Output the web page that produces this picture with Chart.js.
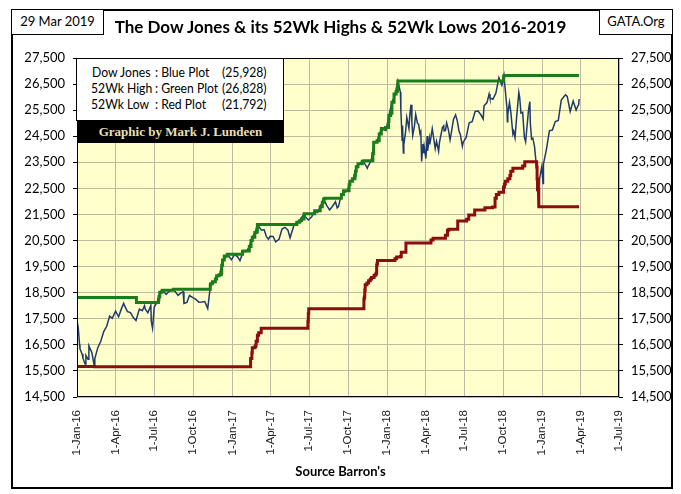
<!DOCTYPE html>
<html>
<head>
<meta charset="utf-8">
<script src="https://cdn.jsdelivr.net/npm/chart.js@4.4.1/dist/chart.umd.min.js"></script>
<style>
html,body{margin:0;padding:0;background:#fff;}
#wrap{position:relative;width:681px;height:494px;overflow:hidden;font-family:Lato,"Open Sans",sans-serif;}
#c{position:absolute;left:0;top:0;}
.box{position:absolute;box-sizing:border-box;}
#frame{left:11px;top:9px;width:662px;height:480px;border:2.5px solid #000;}
#date{left:11px;top:9px;width:93px;height:26px;border:1.5px solid #000;background:#fff;font-size:13px;text-align:center;line-height:23px;}
#gata{left:599px;top:9px;width:74px;height:26px;border:1.5px solid #000;background:#fff;font-size:13px;text-align:center;line-height:23px;}
#title{position:absolute;left:0;width:681px;top:16px;text-align:center;font-weight:bold;font-size:17px;}
#legend{left:76px;top:58px;width:208px;height:63px;border:1px solid #000;background:#fff;font-size:14px;}
#legend span{position:absolute;white-space:pre;transform:scaleX(0.87);transform-origin:0 0;}
#banner{left:77px;top:120px;width:207px;height:23px;background:#000;color:#eadfb4;font-family:"Liberation Serif",serif;font-weight:bold;font-size:13px;text-align:center;line-height:23px;}
#source{position:absolute;left:0;width:681px;top:463px;text-align:center;font-weight:bold;font-size:13px;}
</style>
</head>
<body>
<div id="wrap">
<canvas id="c" width="681" height="494"></canvas>
<div class="box" id="frame"></div>
<div class="box" id="date">29 Mar 2019</div>
<div class="box" id="gata">GATA.Org</div>
<div id="title">The Dow Jones &amp; its 52Wk Highs &amp; 52Wk Lows 2016-2019</div>
<div class="box" id="legend">
<span style="left:15px;top:4px">Dow Jones</span><span style="left:78px;top:4px">: Blue Plot</span><span style="left:145px;top:4px">(25,928)</span>
<span style="left:14px;top:20px">52Wk High</span><span style="left:78px;top:20px">: Green Plot</span><span style="left:145px;top:20px">(26,828)</span>
<span style="left:14px;top:36px">52Wk Low</span><span style="left:78px;top:36px">: Red Plot</span><span style="left:145px;top:36px">(21,792)</span>
</div>
<div class="box" id="banner">Graphic by Mark J. Lundeen</div>
<div id="source">Source Barron's</div>
</div>
<script>
const tickDates = ['2016-01-01','2016-04-01','2016-07-01','2016-10-01','2017-01-01','2017-04-01','2017-07-01',
  '2017-10-01','2018-01-01','2018-04-01','2018-07-01','2018-10-01','2019-01-01','2019-04-01','2019-07-01'];
const tickLabels = ['1-Jan-16','1-Apr-16','1-Jul-16','1-Oct-16','1-Jan-17','1-Apr-17','1-Jul-17',
  '1-Oct-17','1-Jan-18','1-Apr-18','1-Jul-18','1-Oct-18','1-Jan-19','1-Apr-19','1-Jul-19'];
const yTicks = [14500,15500,16500,17500,18500,19500,20500,21500,22500,23500,24500,25500,26500,27500];

// Dow Jones closes (blue)
const dowDates = [
 '2016-01-01','2016-01-04','2016-01-07','2016-01-08','2016-01-13','2016-01-15','2016-01-20','2016-01-22','2016-01-27','2016-01-29',
 '2016-02-05','2016-02-11','2016-02-12','2016-02-19','2016-02-26','2016-03-04','2016-03-11','2016-03-18','2016-03-24','2016-04-01',
 '2016-04-08','2016-04-15','2016-04-20','2016-04-22','2016-04-29','2016-05-06','2016-05-13','2016-05-19','2016-05-27','2016-06-03',
 '2016-06-08','2016-06-10','2016-06-16','2016-06-23','2016-06-24','2016-06-27','2016-07-01','2016-07-08','2016-07-15','2016-07-20',
 '2016-07-22','2016-07-29','2016-08-05','2016-08-15','2016-08-19','2016-08-26','2016-09-02','2016-09-07','2016-09-09','2016-09-16',
 '2016-09-22','2016-09-30','2016-10-07','2016-10-14','2016-10-21','2016-10-28','2016-11-04','2016-11-11','2016-11-18','2016-11-25',
 '2016-12-02','2016-12-09','2016-12-16','2016-12-20','2016-12-30',
 '2017-01-06','2017-01-13','2017-01-19','2017-01-27','2017-02-03','2017-02-10','2017-02-17','2017-02-24','2017-03-01','2017-03-10',
 '2017-03-17','2017-03-22','2017-03-27','2017-03-31','2017-04-07','2017-04-13','2017-04-21','2017-04-28','2017-05-05','2017-05-12',
 '2017-05-17','2017-05-26','2017-06-02','2017-06-09','2017-06-19','2017-06-23','2017-06-29','2017-07-07','2017-07-14','2017-07-21',
 '2017-07-28','2017-08-04','2017-08-11','2017-08-18','2017-08-25','2017-09-01','2017-09-05','2017-09-08','2017-09-15','2017-09-22',
 '2017-09-29','2017-10-06','2017-10-13','2017-10-20','2017-10-27','2017-11-03','2017-11-10','2017-11-15','2017-11-17','2017-11-24',
 '2017-12-01','2017-12-08','2017-12-15','2017-12-22','2017-12-29',
 '2018-01-05','2018-01-12','2018-01-19','2018-01-26','2018-02-01','2018-02-02','2018-02-05','2018-02-06','2018-02-08','2018-02-09',
 '2018-02-13','2018-02-16','2018-02-21','2018-02-23','2018-02-26','2018-02-28','2018-03-02','2018-03-06','2018-03-09','2018-03-13',
 '2018-03-16','2018-03-19','2018-03-21','2018-03-23','2018-03-26','2018-03-28','2018-03-29','2018-04-02','2018-04-05','2018-04-06',
 '2018-04-10','2018-04-11','2018-04-13','2018-04-17','2018-04-20','2018-04-24','2018-04-27','2018-05-02','2018-05-04','2018-05-11',
 '2018-05-14','2018-05-15','2018-05-18','2018-05-21','2018-05-25','2018-05-29','2018-06-01','2018-06-06','2018-06-11','2018-06-15',
 '2018-06-19','2018-06-22','2018-06-27','2018-06-29','2018-07-06','2018-07-13','2018-07-20','2018-07-27','2018-08-03','2018-08-10',
 '2018-08-15','2018-08-17','2018-08-24','2018-08-29','2018-08-31','2018-09-07','2018-09-14','2018-09-21','2018-09-28','2018-10-03',
 '2018-10-05','2018-10-10','2018-10-11','2018-10-12','2018-10-16','2018-10-19','2018-10-24','2018-10-26','2018-10-29','2018-11-02',
 '2018-11-07','2018-11-09','2018-11-12','2018-11-16','2018-11-20','2018-11-23','2018-11-30','2018-12-03','2018-12-04','2018-12-07',
 '2018-12-10','2018-12-14','2018-12-17','2018-12-19','2018-12-21','2018-12-24','2018-12-26','2018-12-28','2018-12-31',
 '2019-01-03','2019-01-04','2019-01-11','2019-01-18','2019-01-25','2019-02-01','2019-02-08','2019-02-15','2019-02-22','2019-02-25',
 '2019-03-01','2019-03-08','2019-03-15','2019-03-22','2019-03-26','2019-03-28','2019-03-29'];
const dowValues = [
 17425,17149,16514,16346,16151,15988,15766,16093,15945,16466,
 16205,15660,15974,16392,16640,17006,17213,17602,17516,17793,
 17577,17898,18096,18004,17774,17740,17535,17435,17873,17807,
 18005,17865,17733,18011,17400,17140,17949,18147,18516,18595,
 18571,18432,18543,18636,18552,18395,18492,18538,18085,18124,
 18392,18308,18240,18138,18145,18161,17888,18847,18868,19152,
 19170,19757,19843,19974,19763,
 19964,19886,19732,20094,20071,20269,20624,20822,21115,20903,
 20915,20661,20550,20663,20656,20453,20548,20941,21007,20897,
 20606,21080,21206,21272,21528,21395,21287,21415,21638,21580,
 21830,22092,21858,21674,21814,21988,21753,21798,22268,22350,
 22405,22774,22871,23329,23434,23539,23422,23271,23358,23558,
 24232,24329,24652,24754,24719,
 25296,25803,26072,26617,26186,25521,24346,24913,23860,24191,
 24641,25219,24798,25310,25710,25029,24538,24885,25336,25008,
 24947,24611,24683,23533,24202,23849,24103,23644,24505,23933,
 24408,24190,24360,24787,24463,24025,24311,23925,24263,24831,
 24900,24706,24715,25013,24753,24362,24635,25146,25322,25090,
 24700,24581,24117,24271,24456,25019,25058,25451,25463,25313,
 25162,25669,25790,26124,25965,25917,26155,26743,26458,26828,
 26447,25599,25053,25340,25798,25444,24583,24688,24443,25270,
 26180,25989,25388,25413,24466,24286,25538,25826,25027,24389,
 24424,24101,23592,23324,22445,21792,22878,23062,23327,
 22686,23433,23996,24706,24737,25064,25106,25883,26031,26091,
 26026,25450,25849,25502,25658,25717,25928];

// 52 week high (green), value taking effect on each date
const hiDates = [
 '2016-01-01','2016-05-20','2016-07-11','2016-07-12','2016-07-14','2016-07-15','2016-07-19','2016-07-20','2016-08-15','2016-11-10',
 '2016-11-11','2016-11-15','2016-11-22','2016-11-25','2016-12-01','2016-12-06','2016-12-07','2016-12-09','2016-12-13','2016-12-20',
 '2017-01-25','2017-01-26','2017-02-10','2017-02-14','2017-02-17','2017-02-23','2017-02-27','2017-03-01','2017-06-02','2017-06-09',
 '2017-06-13','2017-06-19','2017-07-14','2017-07-27','2017-08-01','2017-08-04','2017-08-07','2017-09-15','2017-09-20','2017-10-03',
 '2017-10-05','2017-10-11','2017-10-17','2017-10-18','2017-10-20','2017-10-24','2017-11-03','2017-11-07','2017-11-28','2017-11-30',
 '2017-12-08','2017-12-13','2017-12-18','2017-12-28','2018-01-04','2018-01-05','2018-01-09','2018-01-12','2018-01-17','2018-01-22',
 '2018-01-25','2018-01-26','2018-10-02','2018-10-03','2019-03-29'];
const hiValues = [
 18312,18120,18226,18347,18506,18517,18559,18595,18636,18807,
 18847,18923,19023,19152,19191,19252,19549,19757,19911,19974,
 20069,20100,20269,20504,20624,20810,20837,21115,21206,21272,
 21329,21528,21638,21797,21964,22092,22118,22268,22412,22641,
 22775,22873,22997,23157,23329,23441,23539,23557,23836,24272,
 24329,24585,24792,24838,25075,25296,25385,25803,26116,26214,
 26392,26617,26773,26828,26828];

// 52 week low (red), value taking effect on each date
const loDates = [
 '2016-01-01','2016-02-11','2017-02-13','2017-02-16','2017-02-17','2017-02-23','2017-02-25','2017-02-26','2017-03-01','2017-03-04',
 '2017-03-10','2017-06-28','2017-06-29','2017-06-30','2017-11-07','2017-11-08','2017-11-09','2017-11-10','2017-11-14','2017-11-18',
 '2017-11-22','2017-11-25','2017-12-01','2017-12-05','2017-12-06','2017-12-07','2017-12-08','2017-12-09','2018-01-19','2018-01-23',
 '2018-02-01','2018-02-03','2018-02-14','2018-04-14','2018-04-19','2018-05-18','2018-05-23','2018-05-26','2018-06-16','2018-07-07',
 '2018-07-12','2018-07-26','2018-08-19','2018-09-06','2018-09-12','2018-09-15','2018-09-21','2018-10-02','2018-10-04','2018-10-06',
 '2018-10-12','2018-10-17','2018-10-19','2018-10-24','2018-11-16','2018-11-21','2018-12-19','2018-12-20','2018-12-21','2018-12-24',
 '2019-03-29'];
const loValues = [
 15666,15660,15974,16196,16392,16431,16484,16640,16865,16964,
 17140,17409,17695,17888,18259,18332,18589,18807,18867,18956,
 19023,19083,19170,19216,19252,19549,19615,19732,19799,19864,
 19885,20052,20404,20523,20590,20700,20894,20937,21250,21320,
 21480,21674,21753,21784,22118,22268,22350,22557,22661,22775,
 22873,22997,23157,23273,23358,23526,23323,22859,22445,21792,
 21792];

const DAY0 = Date.UTC(2016, 0, 1);
function dayOf(s) {
  const p = s.split('-').map(Number);
  return (Date.UTC(p[0], p[1] - 1, p[2]) - DAY0) / 864e5;
}
function pts(dates, vals) {
  return dates.map((d, i) => ({x: dayOf(d), y: vals[i]}));
}

const gridColor = '#bdb9a2';
const plotBack = {
  id: 'plotBack',
  beforeDraw(chart) {
    const c = chart.ctx, a = chart.chartArea;
    c.save();
    c.fillStyle = '#fff';
    c.fillRect(0, 0, chart.width, chart.height);
    c.fillStyle = '#ffffcc';
    c.fillRect(a.left, a.top, a.right - a.left, a.bottom - a.top);
    c.restore();
  },
  afterDraw(chart) {
    const c = chart.ctx, a = chart.chartArea;
    c.save();
    c.strokeStyle = '#000';
    c.lineWidth = 1;
    c.strokeRect(a.left + 0.5, a.top + 0.5, a.right - a.left - 1, a.bottom - a.top - 1);
    c.restore();
  }
};

const yTickFont = {family: 'Lato', size: 13};
new Chart(document.getElementById('c'), {
  type: 'line',
  data: {
    datasets: [
      {label: '52Wk High', data: pts(hiDates, hiValues), borderColor: '#1a7c1a', borderWidth: 3, stepped: true, pointRadius: 0, order: 1},
      {label: '52Wk Low', data: pts(loDates, loValues), borderColor: '#8c0d0d', borderWidth: 3, stepped: true, pointRadius: 0, order: 2},
      {label: 'Dow Jones', data: pts(dowDates, dowValues), borderColor: '#1f3a6b', borderWidth: 1.5, pointRadius: 0, order: 3}
    ]
  },
  options: {
    responsive: false,
    animation: false,
    layout: {padding: {top: 58, left: 0, right: 0, bottom: 0}},
    plugins: {legend: {display: false}, tooltip: {enabled: false}},
    scales: {
      x: {
        type: 'linear', min: 0, max: dayOf('2019-07-01'),
        afterBuildTicks: a => { a.ticks = tickDates.map(d => ({value: dayOf(d)})); },
        afterFit: s => { s.height = 97; },
        ticks: {autoSkip: false, maxRotation: 90, minRotation: 90, padding: 13, color: '#222',
          font: {family: 'Liberation Sans', size: 11.5},
          callback: (v, i) => tickLabels[i]},
        grid: {color: gridColor, drawTicks: false},
        border: {display: false}
      },
      y: {
        position: 'left', min: 14500, max: 27500,
        afterBuildTicks: a => { a.ticks = yTicks.map(v => ({value: v})); },
        afterFit: s => { s.width = 77; },
        ticks: {padding: 8, color: '#000', font: yTickFont, callback: v => v.toLocaleString('en-US')},
        grid: {color: gridColor, tickLength: 4, tickColor: '#000'},
        border: {display: false}
      },
      y2: {
        position: 'right', min: 14500, max: 27500,
        afterBuildTicks: a => { a.ticks = yTicks.map(v => ({value: v})); },
        afterFit: s => { s.width = 62; },
        ticks: {padding: 8, color: '#000', font: yTickFont, callback: v => v.toLocaleString('en-US')},
        grid: {drawOnChartArea: false, tickLength: 4, tickColor: '#000'},
        border: {display: false}
      }
    }
  },
  plugins: [plotBack]
});
</script>
</body>
</html>
